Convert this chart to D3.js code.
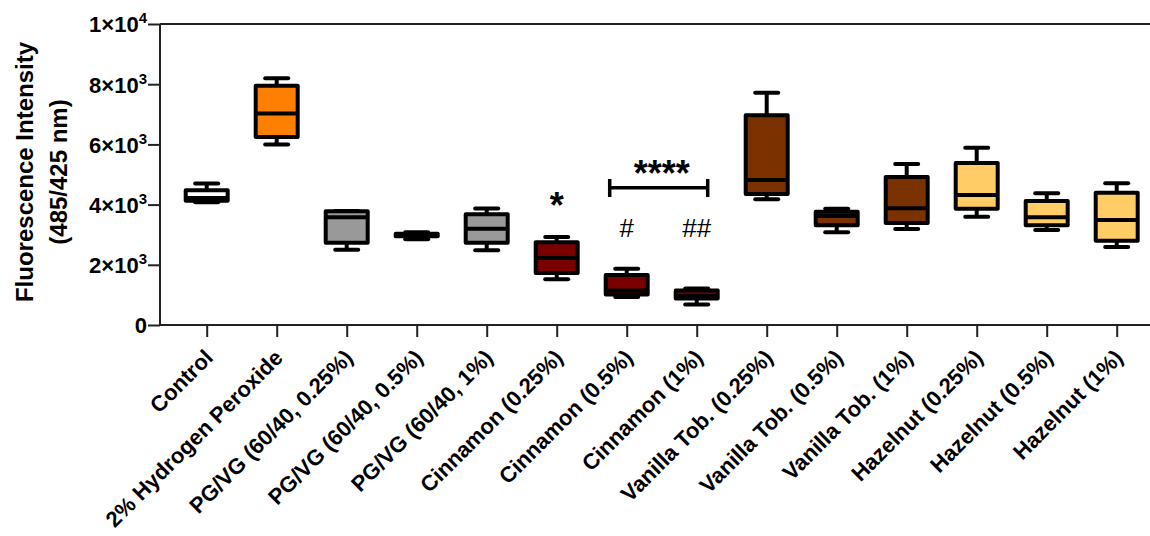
<!DOCTYPE html>
<html>
<head>
<meta charset="utf-8">
<script src="https://cdn.jsdelivr.net/npm/d3@7"></script>
<style>
html,body{margin:0;padding:0;background:#fff;}
svg text{font-family:"Liberation Sans",Arial,sans-serif;}
</style>
</head>
<body>
<svg id="chart" width="1150" height="536"></svg>
<script>
const categories = ["Control","2% Hydrogen Peroxide","PG/VG (60/40, 0.25%)","PG/VG (60/40, 0.5%)","PG/VG (60/40, 1%)","Cinnamon (0.25%)","Cinnamon (0.5%)","Cinnamon (1%)","Vanilla Tob. (0.25%)","Vanilla Tob. (0.5%)","Vanilla Tob. (1%)","Hazelnut (0.25%)","Hazelnut (0.5%)","Hazelnut (1%)"];
const minVals    = [4080, 6000, 2500, 2850, 2480, 1520,  930,  680, 4180, 3080, 3190, 3600, 3160, 2590];
const q1Vals     = [4130, 6250, 2730, 2950, 2730, 1730, 1010,  880, 4350, 3310, 3390, 3860, 3310, 2800];
const medianVals = [4220, 7030, 3580, 3000, 3200, 2230, 1150,  960, 4820, 3620, 3880, 4320, 3580, 3490];
const q3Vals     = [4480, 7950, 3780, 3030, 3680, 2750, 1660, 1150, 6970, 3760, 4920, 5380, 4120, 4390];
const maxVals    = [4700, 8200, 3790, 3080, 3870, 2920, 1870, 1210, 7720, 3860, 5350, 5890, 4380, 4710];
const fillColors = ["#ffffff","#ff8000","#999999","#999999","#999999","#7a0000","#7a0000","#7a0000","#7a3300","#7a3300","#7a3300","#ffcc66","#ffcc66","#ffcc66"];
const yTickValues = [0, 2000, 4000, 6000, 8000, 10000];
const yTickLabels = [["0",""],["2×10","3"],["4×10","3"],["6×10","3"],["8×10","3"],["1×10","4"]];
const yTitleLines = ["Fluorescence Intensity","(485/425 nm)"];

const svg = d3.select("#chart");
const x = d3.scalePoint().domain(categories).range([206.7, 1116.7]);
const y = d3.scaleLinear().domain([0, 10000]).range([325, 24]);
const axisLeftX = 160, axisRightX = 1150;

// axes lines
svg.append("line").attr("x1",axisLeftX).attr("x2",axisRightX).attr("y1",y(0)).attr("y2",y(0)).attr("stroke","#222").attr("stroke-width",2);
svg.append("line").attr("x1",axisLeftX).attr("x2",axisRightX).attr("y1",y(10000)).attr("y2",y(10000)).attr("stroke","#222").attr("stroke-width",2);

// y axis
const yAxis = d3.axisLeft(y).tickValues(yTickValues).tickSize(12).tickFormat("");
const gy = svg.append("g").attr("transform",`translate(${axisLeftX},0)`).call(yAxis);
gy.select(".domain").attr("stroke","#222").attr("stroke-width",2).attr("d",`M-0,${y(0)}V${y(10000)}`);
gy.selectAll(".tick line").attr("stroke","#222").attr("stroke-width",2);
gy.selectAll(".tick").each(function(d,i){
  const t = d3.select(this).append("text").attr("x",-13).attr("dy","0.36em").attr("text-anchor","end")
    .attr("fill","#000").attr("font-size",22).attr("font-weight","bold");
  const lab = yTickLabels[i];
  t.append("tspan").text(lab[0]);
  if(lab[1]) t.append("tspan").attr("dy",-9).attr("font-size",15).text(lab[1]);
});

// x axis
const xAxis = d3.axisBottom(x).tickSize(12).tickSizeOuter(0).tickFormat("");
const gx = svg.append("g").attr("transform",`translate(0,${y(0)})`).call(xAxis);
gx.select(".domain").remove();
gx.selectAll(".tick line").attr("stroke","#222").attr("stroke-width",2);
gx.selectAll(".tick").append("text")
  .attr("transform","translate(7,34) rotate(-45)")
  .attr("text-anchor","end").attr("fill","#000").attr("font-size",22).attr("font-weight","bold")
  .text(d=>d);

// y title
const yt = svg.append("text").attr("transform",`translate(0,172) rotate(-90)`).attr("text-anchor","middle")
  .attr("font-size",24).attr("font-weight","bold").attr("fill","#000");
yt.append("tspan").attr("x",0).attr("y",33).text(yTitleLines[0]);
yt.append("tspan").attr("x",0).attr("y",67).text(yTitleLines[1]);

// boxes
const boxW = 42, capW = 23, sw = 4;
const g = svg.append("g");
categories.forEach((c,i)=>{
  const cx = x(c);
  const gg = g.append("g");
  gg.append("line").attr("x1",cx).attr("x2",cx).attr("y1",y(maxVals[i])).attr("y2",y(q3Vals[i])).attr("stroke","#000").attr("stroke-width",sw);
  gg.append("line").attr("x1",cx).attr("x2",cx).attr("y1",y(minVals[i])).attr("y2",y(q1Vals[i])).attr("stroke","#000").attr("stroke-width",sw);
  [maxVals[i],minVals[i]].forEach(v=>{
    gg.append("line").attr("x1",cx-capW/2).attr("x2",cx+capW/2).attr("y1",y(v)).attr("y2",y(v))
      .attr("stroke","#000").attr("stroke-width",sw).attr("stroke-linecap","round");
  });
  gg.append("rect").attr("x",cx-boxW/2).attr("width",boxW).attr("y",y(q3Vals[i])).attr("height",y(q1Vals[i])-y(q3Vals[i]))
    .attr("fill",fillColors[i]).attr("stroke","#000").attr("stroke-width",sw).attr("stroke-linejoin","round");
  gg.append("line").attr("x1",cx-boxW/2).attr("x2",cx+boxW/2).attr("y1",y(medianVals[i])).attr("y2",y(medianVals[i]))
    .attr("stroke","#000").attr("stroke-width",sw);
});

// annotations
const c05 = x(categories[6]), c1 = x(categories[7]), c025 = x(categories[5]);
svg.append("text").attr("x",c025).attr("y",218).attr("text-anchor","middle").attr("font-size",36).attr("font-weight","bold").text("*");
svg.append("text").attr("x",(c05+c1)/2).attr("y",186).attr("text-anchor","middle").attr("font-size",36).attr("font-weight","bold").text("****");
const by = 187.7;
svg.append("line").attr("x1",c05-17).attr("x2",c1+11).attr("y1",by).attr("y2",by).attr("stroke","#000").attr("stroke-width",3.5);
[c05-17, c1+11].forEach(xx=>svg.append("line").attr("x1",xx).attr("x2",xx).attr("y1",179).attr("y2",197).attr("stroke","#000").attr("stroke-width",3.5));
svg.append("text").attr("x",c05).attr("y",237).attr("text-anchor","middle").attr("font-size",26).text("#");
svg.append("text").attr("x",c1).attr("y",237).attr("text-anchor","middle").attr("font-size",26).text("##");
</script>
</body>
</html>
